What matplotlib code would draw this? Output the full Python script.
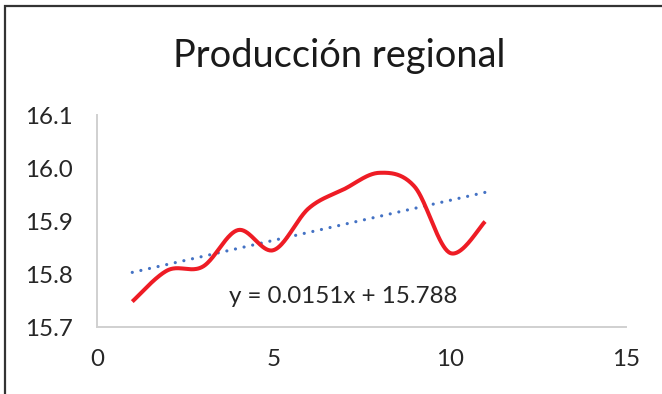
import numpy as np
import matplotlib
matplotlib.use("Agg")
import matplotlib.pyplot as plt
from matplotlib.patches import Rectangle

# Series data
x_vals = [1, 2, 3, 4, 5, 6, 7, 8, 9, 10, 11]
y_vals = [15.748, 15.807, 15.814, 15.883, 15.845, 15.924, 15.960, 15.991, 15.965, 15.840, 15.899]

# Linear trendline coefficients (as printed on the chart)
trend_slope = 0.0151
trend_intercept = 15.788

title_text = "Producción regional"
x_ticks = [0, 5, 10, 15]
y_ticks = [15.7, 15.8, 15.9, 16.0, 16.1]
y_tick_labels = ["15.7", "15.8", "15.9", "16.0", "16.1"]

plt.rcParams['font.family'] = ['Lato', 'DejaVu Sans']


def smooth_curve(xs, ys, n=40):
    """Catmull-Rom style cubic Bezier smoothing through every point."""
    p = np.column_stack([xs, ys]).astype(float)
    m = len(p)
    out = []
    for i in range(m - 1):
        p0 = p[i - 1] if i > 0 else p[i]
        p1 = p[i]
        p2 = p[i + 1]
        p3 = p[i + 2] if i + 2 < m else p[i + 1]
        c1 = p1 + (p2 - p0) / 6.0
        c2 = p2 - (p3 - p1) / 6.0
        t = np.linspace(0, 1, n)[:, None]
        seg = ((1 - t) ** 3) * p1 + 3 * ((1 - t) ** 2) * t * c1 + 3 * (1 - t) * t ** 2 * c2 + t ** 3 * p2
        if i > 0:
            seg = seg[1:]
        out.append(seg)
    out = np.vstack(out)
    return out[:, 0], out[:, 1]


fig = plt.figure(figsize=(6.62, 3.94), dpi=100)
ax = fig.add_axes([0.1465, 0.170, 0.7995, 0.538])

sx, sy = smooth_curve(x_vals, y_vals)
ax.plot(sx, sy, color="#ee1c25", lw=2.9, solid_capstyle="butt", zorder=3)

tx = np.array([x_vals[0], x_vals[-1]], dtype=float)
ty = trend_slope * tx + trend_intercept
ax.plot(tx, ty, color="#4472c4", lw=2.3, linestyle=(0, (0.01, 2.75)),
        dash_capstyle="round", zorder=2)

ax.text(6.99, 15.757, f"y = {trend_slope}x + {trend_intercept}", fontsize=17.4,
        color="#262626", ha="center", va="center")

ax.set_xlim(0, 15)
ax.set_ylim(15.7, 16.1)
ax.set_xticks(x_ticks)
ax.set_yticks(y_ticks)
ax.set_yticklabels(y_tick_labels)
ax.tick_params(axis="both", length=0, labelsize=17.4, colors="#262626")
ax.tick_params(axis="x", pad=15.5)
ax.tick_params(axis="y", pad=17.5)

for side in ("top", "right"):
    ax.spines[side].set_visible(False)
for side in ("left", "bottom"):
    ax.spines[side].set_color("#d0d0d0")
    ax.spines[side].set_linewidth(1.4)

fig.text(0.512, 0.831, title_text, fontsize=27.4, color="#1a1a1a",
         ha="center", va="baseline")

# Chart frame
fig.patches.append(Rectangle((5 / 662, -0.1), 1.2, (394 - 6) / 394 + 0.1,
                             transform=fig.transFigure, fill=False,
                             edgecolor="#333333", lw=1.6))

fig.savefig("out.png", dpi=100, facecolor="white")
